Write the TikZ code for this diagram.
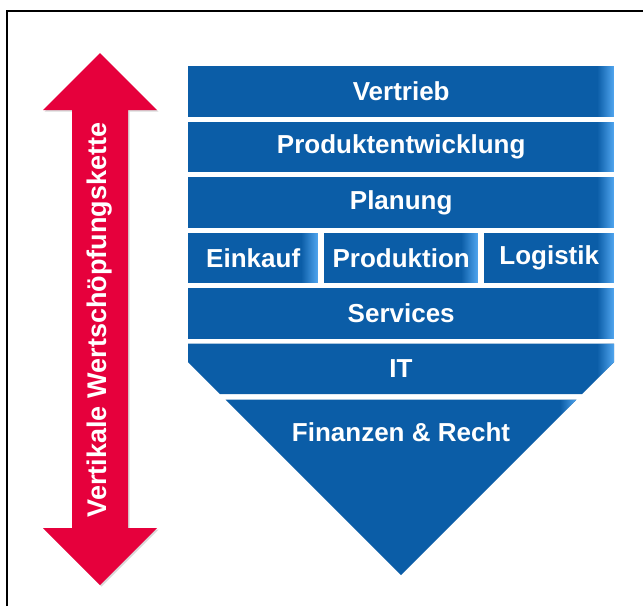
\documentclass[tikz,border=0pt]{standalone}
\usepackage{fontspec}
\setmainfont{Liberation Sans}
\usetikzlibrary{shadows}
\definecolor{bandblue}{HTML}{0B5DA7}
\definecolor{bevelblue}{HTML}{4DA2EC}
\definecolor{arrowred}{HTML}{E6003C}
\newcommand{\bandfont}{\fontsize{26}{30}\selectfont\bfseries}
\tikzset{
  bandfill/.style={fill=bandblue,
    path picture={\foreach \i in {1,...,16}
      \fill[bevelblue, opacity=\i/16] ([xshift={-17pt+1pt*\i}]path picture bounding box.south east)
        rectangle ([xshift={-15.9pt+1pt*\i}]path picture bounding box.north east);}},
  band/.style={bandfill, text=white, font=\bandfont, inner sep=0pt, minimum height=50.5pt, anchor=north west},
  bandtext/.style={text=white, font=\bandfont, inner sep=0pt},
}
\begin{document}
\begin{tikzpicture}[x=1pt, y=-1pt]
    \useasboundingbox (0,0) rectangle (643,606);
    \fill[white] (0,0) rectangle (643,606);
    % frame
    \draw[line width=2.5pt] (7,606) -- (7,11) -- (643,11);
    % double arrow
    \fill[arrowred, drop shadow={opacity=0.3, shadow xshift=1.5pt, shadow yshift=-1.5pt}]
      (100,53) -- (157,110) -- (128,110) -- (128,528) -- (157,528) -- (100,585)
      -- (43,528) -- (72,528) -- (72,110) -- (43,110) -- cycle;
    \node[text=white, font=\fontsize{27}{30}\selectfont\bfseries, rotate=90, inner sep=0pt] (kette) at (100,320) {Vertikale Wertschöpfungskette};
    % full width bands
    \foreach \name/\top/\txt in {vertrieb/66/Vertrieb, entwicklung/121.5/Produktentwicklung,
                                  planung/177/Planung, services/288/Services}
    {
      \node[band, minimum width=426pt] (\name) at (188,\top) {\txt};
    }
    \node[band, minimum width=130pt] (einkauf) at (188,232.5) {Einkauf};
    \node[band, minimum width=154pt] (produktion) at (324,232.5) {Produktion};
    \node[band, minimum width=130pt] (logistik) at (484,232.5) {Logistik};
    % tip of the shield
    \path[bandfill] (188,343.5) -- (614,343.5) -- (614,362) -- (582,394) -- (220,394) -- (188,362) -- cycle;
    \node[bandtext] (it) at (401,369) {IT};
    \path[bandfill] (225.5,399.5) -- (576.5,399.5) -- (401,575) -- cycle;
    \node[bandtext] (finanzen) at (401,432) {Finanzen \& Recht};
\end{tikzpicture}
\end{document}
